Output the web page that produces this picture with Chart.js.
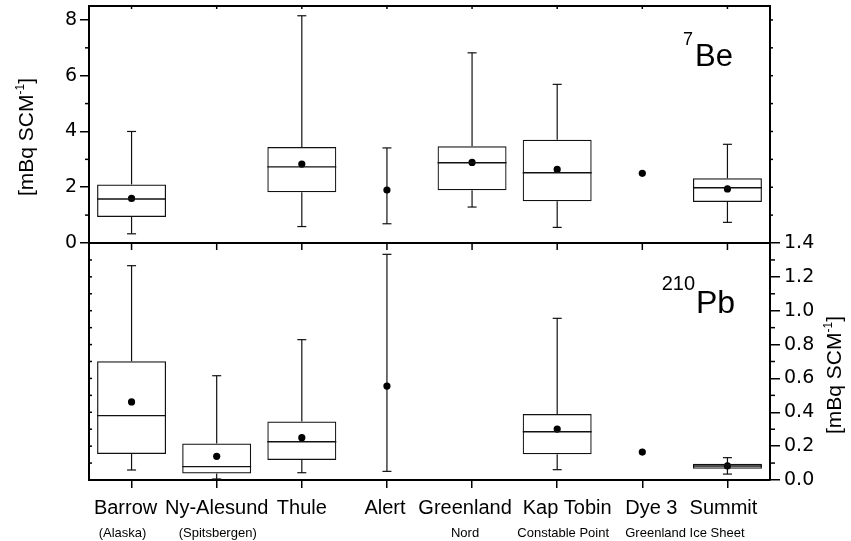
<!DOCTYPE html>
<html>
<head>
<meta charset="utf-8">
<title>7Be and 210Pb at Arctic stations</title>
<script src="https://cdn.jsdelivr.net/npm/chart.js@4.4.1/dist/chart.umd.min.js"></script>
<style>
  html, body { margin: 0; padding: 0; background: #fff; }
  #wrap { width: 851px; height: 541px; }
</style>
</head>
<body>
<div id="wrap"><canvas id="boxChart" width="851" height="541"></canvas></div>
<script>
// stations along the x axis
const sites = ['Barrow', 'Ny-Alesund', 'Thule', 'Alert', 'Greenland', 'Kap Tobin', 'Dye 3', 'Summit'];
const siteNotes = ['(Alaska)', '(Spitsbergen)', '', '', 'Nord', 'Constable Point', '', ''];

// 7Be [mBq SCM-1]: whisker ends, quartiles, median, mean
const beMin    = [0.33, null, 0.59, 0.69, 1.29, 0.56, null, 0.74];
const beQ1     = [0.93, null, 1.82, null, 1.89, 1.50, null, 1.47];
const beMedian = [1.58, null, 2.73, null, 2.88, 2.52, null, 1.98];
const beQ3     = [2.10, null, 3.44, null, 3.47, 3.70, null, 2.32];
const beMax    = [4.00, null, 8.15, 3.41, 6.82, 5.69, null, 3.54];
const beMean   = [1.60, null, 2.83, 1.90, 2.89, 2.64, 2.50, 1.94];

// 210Pb [mBq SCM-1]
const pbMin    = [0.059, 0.006, 0.043, 0.051, null, 0.061, null, 0.035];
const pbQ1     = [0.154, 0.039, 0.118, null, null, 0.152, null, 0.067];
const pbMedian = [0.380, 0.079, 0.226, null, null, 0.285, null, 0.083];
const pbQ3     = [0.701, 0.215, 0.345, null, null, 0.390, null, 0.096];
const pbMax    = [1.266, 0.616, 0.829, 1.333, null, 0.955, null, 0.132];
const pbMean   = [0.461, 0.140, 0.250, 0.555, null, 0.301, 0.165, 0.083];

// tick values
const beTicks = [0, 2, 4, 6, 8];
const beMinor = [1, 3, 5, 7];
const pbTicks = [0, 0.2, 0.4, 0.6, 0.8, 1.0, 1.2, 1.4];
const pbMinor = [0.1, 0.3, 0.5, 0.7, 0.9, 1.1, 1.3];

// small nudges so the station names sit like the printed figure
const nameShift = [-6, 0, 0, -2, -7, 10, 9, -4];
const noteShift = [-9, 1, 0, 0, -7, 6, 0, 0];

const LABEL_FONT = "'Liberation Sans', Arial, sans-serif";
const TICK_FONT = "'DejaVu Sans', sans-serif";
const INK = '#111';

function boxData(q1, q3, med) {
  return sites.map((s, i) => q1[i] == null ? null : { x: i, y: [q1[i], q3[i]], median: med[i] })
    .filter(Boolean);
}
function meanData(mean) {
  return sites.map((s, i) => mean[i] == null ? null : { x: i, y: mean[i] }).filter(Boolean);
}

function seg(ctx, x1, y1, x2, y2) {
  ctx.beginPath();
  ctx.moveTo(x1, y1);
  ctx.lineTo(x2, y2);
  ctx.stroke();
}

function drawWhiskers(ctx, x, y, lo, q1, q3, hi) {
  const cap = 4.5;
  lo.forEach((v, i) => {
    if (v == null) return;
    const px = x.getPixelForValue(i);
    const top = y.getPixelForValue(hi[i]);
    const bot = y.getPixelForValue(v);
    if (q1[i] == null) {
      seg(ctx, px, top, px, bot);
    } else {
      seg(ctx, px, top, px, y.getPixelForValue(q3[i]));
      seg(ctx, px, y.getPixelForValue(q1[i]), px, bot);
    }
    seg(ctx, px - cap, top, px + cap, top);
    seg(ctx, px - cap, bot, px + cap, bot);
  });
}

// text with a raised suffix, e.g. SCM^-1
function supText(ctx, parts, size) {
  let w = 0;
  parts.forEach(p => {
    ctx.font = (p.sup ? Math.round(size * 0.55) : size) + 'px ' + LABEL_FONT;
    p.w = ctx.measureText(p.t).width;
    w += p.w;
  });
  let cx = -w / 2;
  parts.forEach(p => {
    ctx.font = (p.sup ? Math.round(size * 0.55) : size) + 'px ' + LABEL_FONT;
    ctx.fillText(p.t, cx, p.sup ? -size * 0.42 : 0);
    cx += p.w;
  });
}

const boxParts = {
  id: 'boxParts',
  beforeDatasetsDraw(chart) {
    const { ctx, scales: { x, yBe, yPb } } = chart;
    ctx.save();
    ctx.strokeStyle = INK;
    ctx.lineWidth = 1.2;
    drawWhiskers(ctx, x, yBe, beMin, beQ1, beQ3, beMax);
    drawWhiskers(ctx, x, yPb, pbMin, pbQ1, pbQ3, pbMax);
    ctx.restore();
  },
  afterDatasetsDraw(chart) {
    const { ctx } = chart;
    ctx.save();
    ctx.strokeStyle = INK;
    ctx.lineWidth = 1.4;
    [0, 1].forEach(di => {
      const meta = chart.getDatasetMeta(di);
      const ds = chart.data.datasets[di];
      const y = chart.scales[ds.yAxisID];
      meta.data.forEach((bar, k) => {
        const py = y.getPixelForValue(ds.data[k].median);
        seg(ctx, bar.x - bar.width / 2, py, bar.x + bar.width / 2, py);
      });
    });
    ctx.restore();
  },
  afterDraw(chart) {
    const { ctx, chartArea: a, scales: { x, yBe, yPb } } = chart;
    const mid = yBe.getPixelForValue(0);
    ctx.save();
    ctx.strokeStyle = '#000';

    // frame top and the line between the two panels
    ctx.lineWidth = 2;
    seg(ctx, a.left - 1, a.top, a.right + 1, a.top);
    seg(ctx, a.left, mid, a.right, mid);

    // station ticks on the top edge and the panel divider
    ctx.lineWidth = 1.5;
    sites.forEach((s, i) => {
      const px = x.getPixelForValue(i);
      seg(ctx, px, a.top, px, a.top + 3);
      seg(ctx, px, mid, px, mid + 7);
    });

    // minor ticks
    beMinor.forEach(v => {
      const py = yBe.getPixelForValue(v);
      seg(ctx, a.left - 4, py, a.left, py);
    });
    for (let v = 1; v <= 8; v++) {
      const py = yBe.getPixelForValue(v);
      seg(ctx, a.right, py, a.right + 3, py);
    }
    for (let k = 1; k <= 13; k++) {
      const py = yPb.getPixelForValue(k / 10);
      seg(ctx, a.left, py, a.left + 3, py);
    }
    pbMinor.forEach(v => {
      const py = yPb.getPixelForValue(v);
      seg(ctx, a.right, py, a.right + 5, py);
    });

    // station names
    ctx.fillStyle = '#000';
    ctx.textAlign = 'center';
    ctx.textBaseline = 'alphabetic';
    ctx.font = '20px ' + LABEL_FONT;
    sites.forEach((s, i) => {
      ctx.fillText(s, x.getPixelForValue(i) + nameShift[i], a.bottom + 34);
    });
    ctx.font = '13px ' + LABEL_FONT;
    siteNotes.forEach((s, i) => {
      if (s) ctx.fillText(s, x.getPixelForValue(i) + noteShift[i], a.bottom + 57);
    });
    ctx.fillText('Greenland Ice Sheet', x.getPixelForValue(6.5), a.bottom + 57);

    // axis titles
    const unit = [{ t: '[mBq SCM' }, { t: '-1', sup: true }, { t: ']' }];
    ctx.textAlign = 'left';
    ctx.save();
    ctx.translate(33, yBe.getPixelForValue(3.8));
    ctx.rotate(-Math.PI / 2);
    supText(ctx, unit, 21);
    ctx.restore();
    ctx.save();
    ctx.translate(841, yPb.getPixelForValue(0.62));
    ctx.rotate(-Math.PI / 2);
    supText(ctx, unit, 21);
    ctx.restore();

    // isotope names
    ctx.textAlign = 'left';
    ctx.font = '31px ' + LABEL_FONT;
    ctx.fillText('Be', a.right - 75, a.top + 60);
    ctx.textAlign = 'right';
    ctx.font = '18px ' + LABEL_FONT;
    ctx.fillText('7', a.right - 77, a.top + 39);
    ctx.textAlign = 'left';
    ctx.font = '32px ' + LABEL_FONT;
    ctx.fillText('Pb', a.right - 74, mid + 70);
    ctx.textAlign = 'right';
    ctx.font = '20px ' + LABEL_FONT;
    ctx.fillText('210', a.right - 75, mid + 47);
    ctx.restore();
  }
};

function noPad(width) {
  return s => {
    if (width != null) s.width = width;
    s.paddingTop = 0;
    s.paddingBottom = 0;
    s.paddingLeft = 0;
    s.paddingRight = 0;
  };
}

const boxStyle = {
  backgroundColor: 'rgba(0,0,0,0)',
  borderColor: INK,
  borderWidth: 1.2,
  borderSkipped: false,
  grouped: false,
  barPercentage: 0.81,
  categoryPercentage: 1
};
const dotStyle = {
  type: 'scatter',
  pointRadius: 3.6,
  pointBackgroundColor: '#000',
  pointBorderWidth: 0
};

const ctx = document.getElementById('boxChart').getContext('2d');
new Chart(ctx, {
  type: 'bar',
  data: {
    datasets: [
      Object.assign({ label: '7Be', data: boxData(beQ1, beQ3, beMedian), yAxisID: 'yBe' }, boxStyle),
      Object.assign({ label: '210Pb', data: boxData(pbQ1, pbQ3, pbMedian), yAxisID: 'yPb' }, boxStyle),
      Object.assign({ label: '7Be mean', data: meanData(beMean), yAxisID: 'yBe' }, dotStyle),
      Object.assign({ label: '210Pb mean', data: meanData(pbMean), yAxisID: 'yPb' }, dotStyle)
    ]
  },
  options: {
    responsive: false,
    animation: false,
    layout: { padding: { top: 6, left: 0, right: 0, bottom: 0 } },
    plugins: { legend: { display: false }, tooltip: { enabled: false } },
    scales: {
      x: {
        type: 'linear',
        min: -0.5,
        max: 7.5,
        offset: false,
        afterBuildTicks: s => { s.ticks = sites.map((n, i) => ({ value: i })); },
        ticks: { display: false },
        grid: { offset: false, drawOnChartArea: false, tickLength: 8, color: '#000', lineWidth: 1.5 },
        border: { color: '#000', width: 2 },
        afterFit: s => { s.height = 61; s.paddingLeft = 0; s.paddingRight = 0; }
      },
      yBe: {
        position: 'left',
        min: -8.5,
        max: 8.5,
        afterBuildTicks: s => { s.ticks = beTicks.map(v => ({ value: v })); },
        ticks: {
          padding: 3,
          color: '#000',
          font: { family: TICK_FONT, size: 19 },
          callback: v => String(v)
        },
        grid: { drawOnChartArea: false, tickLength: 9, color: '#000', lineWidth: 1.5 },
        border: { color: '#000', width: 2 },
        afterFit: noPad(89)
      },
      yPb: {
        position: 'right',
        min: 0,
        max: 2.8,
        afterBuildTicks: s => { s.ticks = pbTicks.map(v => ({ value: v })); },
        ticks: {
          padding: 4,
          color: '#000',
          font: { family: TICK_FONT, size: 19 },
          callback: v => v.toFixed(1)
        },
        grid: { drawOnChartArea: false, tickLength: 10, color: '#000', lineWidth: 1.5 },
        border: { color: '#000', width: 2 },
        afterFit: noPad(81)
      }
    }
  },
  plugins: [boxParts]
});
</script>
</body>
</html>
